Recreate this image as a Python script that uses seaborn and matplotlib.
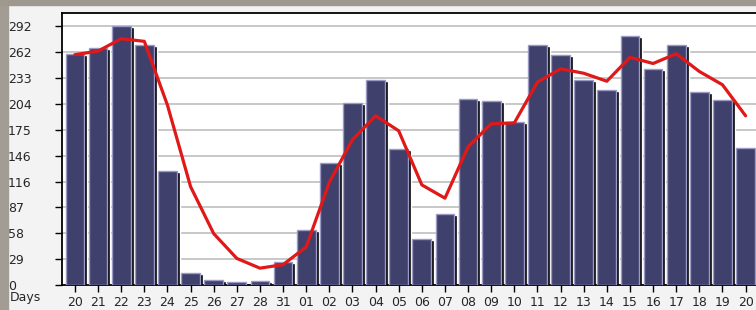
import numpy as np
import pandas as pd
import matplotlib.pyplot as plt
import matplotlib.transforms as mtransforms
from matplotlib.patches import Rectangle
import seaborn as sns

days = ['20', '21', '22', '23', '24', '25', '26', '27', '28', '31',
        '01', '02', '03', '04', '05', '06', '07', '08', '09', '10',
        '11', '12', '13', '14', '15', '16', '17', '18', '19', '20']
visits = [261, 267, 292, 271, 129, 14, 6, 3, 4, 26,
          62, 138, 205, 231, 154, 52, 80, 210, 208, 184,
          271, 260, 231, 220, 281, 244, 271, 218, 209, 155]
trend = [260, 264, 278, 275, 203, 111, 58, 30, 19, 23,
         43, 116, 164, 191, 174, 113, 98, 156, 182, 183,
         229, 244, 239, 230, 257, 250, 261, 241, 226, 191]
ytick_values = [i * 29.2 for i in range(11)]
ytick_labels = [str(int(v)) for v in ytick_values]

df = pd.DataFrame({'pos': np.arange(len(days)), 'visits': visits, 'trend': trend})

sns.set_style('white')
plt.rcParams['font.family'] = ['DejaVu Sans']

fig = plt.figure(figsize=(7.56, 3.10), dpi=100, facecolor='#f3f3f3')
# marble-ish frame strips at left and top of the original screenshot
fig.patches.append(Rectangle((0, 0), 8 / 756, 1, transform=fig.transFigure,
                             color='#a29d94', zorder=0))
fig.patches.append(Rectangle((0, 1 - 5 / 310), 1, 5 / 310, transform=fig.transFigure,
                             color='#9e988e', zorder=0))

ax = fig.add_axes([62 / 756, 25 / 310, 694 / 756, 272 / 310])
ax.set_facecolor('white')

# drop shadow bars (offset a few pixels to the right)
sns.barplot(data=df, x='pos', y='visits', color='black', width=0.81,
            saturation=1, ax=ax, zorder=2)
shift = mtransforms.ScaledTranslation(3 / 100, -1 / 100, fig.dpi_scale_trans)
for p in ax.patches:
    p.set_transform(ax.transData + shift)

sns.barplot(data=df, x='pos', y='visits', color='#40406c', width=0.81,
            saturation=1, edgecolor='#9a9ac4', linewidth=1.0, ax=ax, zorder=3)

sns.lineplot(data=df, x='pos', y='trend', color='#e01818', linewidth=2.3,
             ax=ax, zorder=5)

ax.set_xlim(-0.56, 29.45)
ax.set_ylim(0, 307)
ax.set_yticks(ytick_values)
ax.set_yticklabels(ytick_labels)
ax.set_xticks(np.arange(len(days)))
ax.set_xticklabels(days)
ax.set_xlabel('')
ax.set_ylabel('')

ax.yaxis.grid(True, color='#c4c4c4', linewidth=1.3)
ax.set_axisbelow(True)

for side in ['top', 'left', 'bottom']:
    ax.spines[side].set_visible(True)
    ax.spines[side].set_color('black')
    ax.spines[side].set_linewidth(1.3)
ax.spines['right'].set_visible(False)

ax.tick_params(axis='y', direction='out', length=5, width=1, color='black',
               labelsize=9, pad=47 * 0.72, left=True)
for lab in ax.get_yticklabels():
    lab.set_horizontalalignment('left')
ax.tick_params(axis='x', direction='out', length=5, width=1, color='black',
               labelsize=9, pad=3, bottom=True)

fig.text(10 / 756, 1 - 298 / 310, 'Days', fontsize=9, ha='left', va='center')

fig.savefig('out.png', dpi=100, facecolor=fig.get_facecolor())
